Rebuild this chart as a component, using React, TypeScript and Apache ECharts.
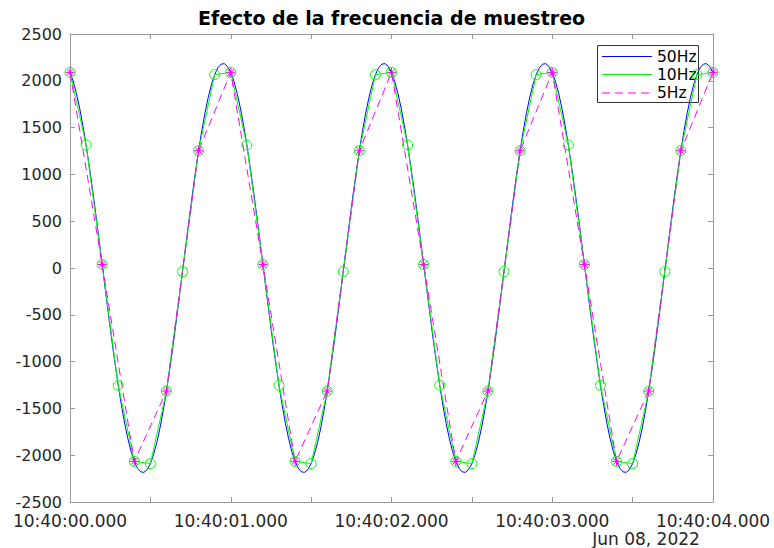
import React, { useEffect, useRef } from 'react';
import * as echarts from 'echarts';

const chartTitle = 'Efecto de la frecuencia de muestreo';
const dateLabel = 'Jun 08, 2022';
const xTickLabels = ['10:40:00.000', '10:40:01.000', '10:40:02.000', '10:40:03.000', '10:40:04.000'];
const seriesNames = ['50Hz', '10Hz', '5Hz'];
const seriesColors = ['#0000ff', '#00ff00', '#ff00ff'];
const sampleRates = [50, 10, 5];

const values50Hz = [
  2090, 1993, 1865, 1708, 1523, 1315, 1086, 840, 580, 312, 38, -236, -506, -769, -1019, -1253, -1468, -1659, -1824, -1961,
  -2066, -2139, -2178, -2183, -2153, -2090, -1993, -1865, -1708, -1523, -1315, -1086, -840, -580, -312, -38, 236, 506, 769, 1019,
  1253, 1468, 1659, 1824, 1961, 2066, 2139, 2178, 2183, 2153,
  2090, 1993, 1865, 1708, 1523, 1315, 1086, 840, 580, 312, 38, -236, -506, -769, -1019, -1253, -1468, -1659, -1824, -1961,
  -2066, -2139, -2178, -2183, -2153, -2090, -1993, -1865, -1708, -1523, -1315, -1086, -840, -580, -312, -38, 236, 506, 769, 1019,
  1253, 1468, 1659, 1824, 1961, 2066, 2139, 2178, 2183, 2153,
  2090, 1993, 1865, 1708, 1523, 1315, 1086, 840, 580, 312, 38, -236, -506, -769, -1019, -1253, -1468, -1659, -1824, -1961,
  -2066, -2139, -2178, -2183, -2153, -2090, -1993, -1865, -1708, -1523, -1315, -1086, -840, -580, -312, -38, 236, 506, 769, 1019,
  1253, 1468, 1659, 1824, 1961, 2066, 2139, 2178, 2183, 2153,
  2090, 1993, 1865, 1708, 1523, 1315, 1086, 840, 580, 312, 38, -236, -506, -769, -1019, -1253, -1468, -1659, -1824, -1961,
  -2066, -2139, -2178, -2183, -2153, -2090, -1993, -1865, -1708, -1523, -1315, -1086, -840, -580, -312, -38, 236, 506, 769, 1019,
  1253, 1468, 1659, 1824, 1961, 2066, 2139, 2178, 2183, 2153,
  2090,
];

const values10Hz = [
  2090, 1315, 38, -1253, -2066, -2090, -1315, -38, 1253, 2066,
  2090, 1315, 38, -1253, -2066, -2090, -1315, -38, 1253, 2066,
  2090, 1315, 38, -1253, -2066, -2090, -1315, -38, 1253, 2066,
  2090, 1315, 38, -1253, -2066, -2090, -1315, -38, 1253, 2066,
  2090,
];

const values5Hz = [
  2090, 38, -2066, -1315, 1253,
  2090, 38, -2066, -1315, 1253,
  2090, 38, -2066, -1315, 1253,
  2090, 38, -2066, -1315, 1253,
  2090,
];

const FONT = '"DejaVu Sans", Verdana, sans-serif';
const AXIS_GRAY = '#9a9a9a';
const LABEL_COLOR = '#262626';
const ASTERISK = 'path://M0,5L10,5M5,0L5,10M1.5,1.5L8.5,8.5M8.5,1.5L1.5,8.5';
const DASH = [8, 5];

function toPairs(values: number[], rate: number) {
  return values.map((v, i) => [i / rate, v]);
}

export default function App() {
  const ref = useRef<HTMLDivElement>(null);

  useEffect(() => {
    document.body.style.margin = '0';
    if (!ref.current) return;
    const chart = echarts.init(ref.current, undefined, { renderer: 'svg' });

    const tickCommon = {
      axisLine: { show: true, onZero: false, lineStyle: { color: AXIS_GRAY, width: 1 } },
      axisTick: { show: true, inside: true, length: 5, lineStyle: { color: AXIS_GRAY } },
      splitLine: { show: false },
    };

    const xLabelFormatter = (v: number) => {
      const i = Math.round(v);
      return Math.abs(v - i) < 1e-9 ? xTickLabels[i] ?? '' : '';
    };

    // Legend drawn as a boxed group (lines only, as in the reference)
    const legendX = 597.5;
    const legendY = 45.5;
    const legendRowY = [11, 29, 47.5];
    const legendChildren: any[] = [
      {
        type: 'rect',
        shape: { x: 0, y: 0, width: 101, height: 57 },
        style: { fill: '#ffffff', stroke: '#333333', lineWidth: 1 },
      },
    ];
    seriesNames.forEach((name, i) => {
      legendChildren.push({
        type: 'line',
        shape: { x1: 4.5, y1: legendRowY[i], x2: 54.5, y2: legendRowY[i] },
        style: { stroke: seriesColors[i], lineWidth: 1, lineDash: i === 2 ? DASH : null },
      });
      legendChildren.push({
        type: 'text',
        x: 59.5,
        y: legendRowY[i],
        style: {
          text: name, fill: '#000000', fontSize: 15.5, fontFamily: FONT,
          align: 'left', verticalAlign: 'middle', textAlign: 'left', textVerticalAlign: 'middle',
        },
      });
    });

    chart.setOption({
      animation: false,
      backgroundColor: '#ffffff',
      textStyle: { fontFamily: FONT },
      grid: { left: 70, right: 61, top: 34, bottom: 46, containLabel: false },
      xAxis: [
        {
          type: 'value', min: 0, max: 4, interval: 0.5, position: 'bottom',
          ...tickCommon,
          axisLabel: {
            show: true, formatter: xLabelFormatter, color: LABEL_COLOR, fontSize: 17, lineHeight: 17,
            fontFamily: FONT, margin: 10, showMinLabel: true, showMaxLabel: true,
          },
        },
        {
          type: 'value', min: 0, max: 4, interval: 0.5, position: 'top',
          ...tickCommon,
          axisLabel: { show: false },
        },
      ],
      yAxis: [
        {
          type: 'value', min: -2500, max: 2500, interval: 500, position: 'left',
          ...tickCommon,
          axisLabel: {
            show: true, color: LABEL_COLOR, fontSize: 16, lineHeight: 14, fontFamily: FONT, margin: 8,
            formatter: (v: number) => String(v),
          },
        },
        {
          type: 'value', min: -2500, max: 2500, interval: 500, position: 'right',
          ...tickCommon,
          axisLabel: { show: false },
        },
      ],
      graphic: [
        {
          type: 'text', x: 391.5, y: 17.5, silent: true,
          style: {
            text: chartTitle, fill: '#000000', fontSize: 19, fontWeight: 'bold', fontFamily: FONT,
            align: 'center', verticalAlign: 'middle', textAlign: 'center', textVerticalAlign: 'middle',
          },
        },
        {
          type: 'text', x: 646, y: 539, silent: true,
          style: {
            text: dateLabel, fill: LABEL_COLOR, fontSize: 17, fontFamily: FONT,
            align: 'center', verticalAlign: 'middle', textAlign: 'center', textVerticalAlign: 'middle',
          },
        },
        {
          type: 'group', x: legendX, y: legendY, z: 100, silent: true,
          children: legendChildren,
        },
      ],
      series: [
        {
          name: seriesNames[0], type: 'line', data: toPairs(values50Hz, sampleRates[0]),
          showSymbol: false, symbol: 'none',
          lineStyle: { color: seriesColors[0], width: 1 }, itemStyle: { color: seriesColors[0] },
        },
        {
          name: seriesNames[1], type: 'line', data: toPairs(values10Hz, sampleRates[1]),
          symbol: 'circle', symbolSize: 10, showAllSymbol: true,
          lineStyle: { color: seriesColors[1], width: 1 },
          itemStyle: { color: 'rgba(0,0,0,0)', borderColor: seriesColors[1], borderWidth: 1 },
        },
        {
          name: seriesNames[2], type: 'line', data: toPairs(values5Hz, sampleRates[2]),
          symbol: ASTERISK, symbolSize: 9, showAllSymbol: true,
          lineStyle: { color: seriesColors[2], width: 1, type: DASH },
          itemStyle: { color: 'rgba(0,0,0,0)', borderColor: seriesColors[2], borderWidth: 1 },
        },
      ],
    });

    return () => chart.dispose();
  }, []);

  return <div ref={ref} style={{ width: 774, height: 548 }} />;
}
